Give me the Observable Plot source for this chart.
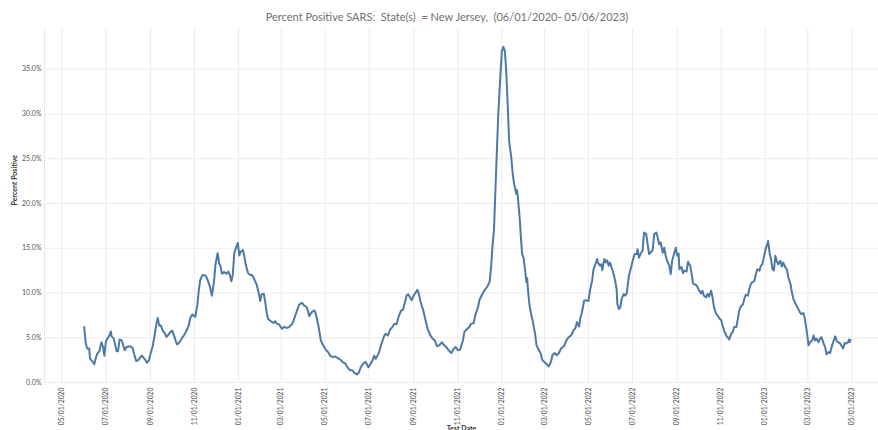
<!DOCTYPE html>
<html><head><meta charset="utf-8">
<script src="https://cdn.jsdelivr.net/npm/d3@7"></script>
<script src="https://cdn.jsdelivr.net/npm/@observablehq/plot@0.6"></script>
<style>
html,body{margin:0;padding:0;background:#fff;}
#wrap{position:relative;width:878px;height:430px;overflow:hidden;}
#title{position:absolute;top:10px;left:0;width:894px;text-align:center;font-family:Lato,sans-serif;font-size:11px;color:#707070;white-space:pre;}
#chart{position:absolute;top:0;left:0;}
</style></head><body>
<div id="wrap"><div id="chart"></div><div id="title"></div></div>
<script>
const titleText = "Percent Positive SARS:  State(s)  = New Jersey,  (06/01/2020- 05/06/2023)";
const yLabel = "Percent Positive";
const xLabel = "Test Date";
const yTicks = [0, 5, 10, 15, 20, 25, 30, 35];
const xTicks = ["2020-05-01","2020-07-01","2020-09-01","2020-11-01","2021-01-01","2021-03-01","2021-05-01","2021-07-01","2021-09-01","2021-11-01","2022-01-01","2022-03-01","2022-05-01","2022-07-01","2022-09-01","2022-11-01","2023-01-01","2023-03-01","2023-05-01"];

const nj2020 = [
["2020-06-01",6.2],["2020-06-03",4.5],["2020-06-05",3.8],["2020-06-08",3.8],["2020-06-09",2.7],["2020-06-12",2.4],["2020-06-15",2.05],["2020-06-17",2.7],["2020-06-19",3.2],["2020-06-22",3.5],["2020-06-24",4.2],["2020-06-25",4.5],["2020-06-27",4.0],["2020-06-29",3.0],
["2020-07-01",4.5],["2020-07-03",4.9],["2020-07-05",5.1],["2020-07-08",5.7],["2020-07-09",5.15],["2020-07-12",4.9],["2020-07-14",4.2],["2020-07-16",3.5],["2020-07-18",3.5],["2020-07-20",4.8],["2020-07-23",4.7],["2020-07-25",4.2],["2020-07-27",3.6],["2020-07-30",4.0],
["2020-08-01",4.0],["2020-08-04",4.05],["2020-08-07",3.9],["2020-08-09",3.25],["2020-08-12",2.4],["2020-08-15",2.5],["2020-08-18",2.85],["2020-08-20",3.0],["2020-08-23",2.7],["2020-08-25",2.5],["2020-08-27",2.2],["2020-08-30",2.5],
["2020-09-01",3.25],["2020-09-04",4.05],["2020-09-07",5.45],["2020-09-09",6.5],["2020-09-11",7.2],["2020-09-13",6.35],["2020-09-15",6.4],["2020-09-18",5.8],["2020-09-21",5.45],["2020-09-23",5.1],["2020-09-25",5.25],["2020-09-28",5.6],
["2020-10-01",5.8],["2020-10-04",5.15],["2020-10-06",4.6],["2020-10-08",4.25],["2020-10-11",4.5],["2020-10-15",5.0],["2020-10-19",5.5],["2020-10-22",6.0],["2020-10-24",6.4],["2020-10-26",7.2],["2020-10-29",7.6],["2020-10-31",7.45],
["2020-11-02",7.35],["2020-11-05",8.75],["2020-11-07",10.4],["2020-11-09",11.5],["2020-11-12",12.0],["2020-11-16",11.95],["2020-11-19",11.5],["2020-11-22",10.8],["2020-11-25",9.7],["2020-11-28",11.3],["2020-11-30",13.2],
["2020-12-03",14.45],["2020-12-05",13.35],["2020-12-07",13.0],["2020-12-09",12.15],["2020-12-12",12.35],["2020-12-15",12.15],["2020-12-18",12.4],["2020-12-20",12.0],["2020-12-22",11.3],["2020-12-24",12.05],["2020-12-26",14.45],["2020-12-29",15.2],["2020-12-31",15.6]
];
const nj2021 = [
["2021-01-02",14.2],["2021-01-04",14.6],["2021-01-07",14.8],["2021-01-09",14.1],["2021-01-11",13.15],["2021-01-14",12.25],["2021-01-17",12.0],["2021-01-19",12.05],["2021-01-22",11.7],["2021-01-24",11.3],["2021-01-26",10.95],["2021-01-29",10.0],["2021-01-31",9.1],
["2021-02-02",9.85],["2021-02-05",9.9],["2021-02-07",8.95],["2021-02-09",7.8],["2021-02-11",7.1],["2021-02-14",6.9],["2021-02-18",6.65],["2021-02-21",6.85],["2021-02-23",6.55],["2021-02-26",6.5],
["2021-03-02",6.0],["2021-03-05",6.2],["2021-03-09",6.1],["2021-03-12",6.2],["2021-03-16",6.5],["2021-03-19",7.1],["2021-03-23",8.05],["2021-03-26",8.7],["2021-03-30",8.9],
["2021-04-02",8.6],["2021-04-05",8.45],["2021-04-07",8.05],["2021-04-09",7.4],["2021-04-11",7.7],["2021-04-13",7.9],["2021-04-16",8.05],["2021-04-18",7.7],["2021-04-22",6.2],["2021-04-25",4.7],["2021-04-29",4.05],
["2021-05-02",3.65],["2021-05-05",3.4],["2021-05-08",3.0],["2021-05-11",2.85],["2021-05-15",2.9],["2021-05-18",2.75],["2021-05-22",2.55],["2021-05-25",2.3],["2021-05-29",2.1],
["2021-06-01",1.7],["2021-06-04",1.4],["2021-06-08",1.35],["2021-06-11",1.05],["2021-06-14",0.9],["2021-06-17",1.15],["2021-06-19",1.65],["2021-06-23",2.15],["2021-06-26",2.3],["2021-06-30",1.7],
["2021-07-03",2.1],["2021-07-06",2.55],["2021-07-08",3.0],["2021-07-10",2.65],["2021-07-14",3.2],["2021-07-16",3.75],["2021-07-18",4.3],["2021-07-22",5.25],["2021-07-24",5.45],["2021-07-27",5.25],["2021-07-30",5.9],
["2021-08-02",6.2],["2021-08-05",6.55],["2021-08-08",6.5],["2021-08-11",7.4],["2021-08-14",8.0],["2021-08-17",8.15],["2021-08-19",8.8],["2021-08-22",9.75],["2021-08-24",9.85],["2021-08-26",9.6],["2021-08-29",9.2],["2021-08-31",9.6],
["2021-09-03",10.0],["2021-09-06",10.35],["2021-09-08",9.85],["2021-09-10",9.1],["2021-09-14",8.05],["2021-09-17",7.0],["2021-09-20",6.0],["2021-09-24",5.25],["2021-09-27",4.9],["2021-09-30",4.7],
["2021-10-03",4.05],["2021-10-06",4.15],["2021-10-10",4.5],["2021-10-12",4.25],["2021-10-16",3.95],["2021-10-19",3.6],["2021-10-23",3.3],["2021-10-26",3.75],["2021-10-29",3.95],
["2021-11-01",3.6],["2021-11-04",3.65],["2021-11-08",4.7],["2021-11-10",5.65],["2021-11-14",6.0],["2021-11-17",6.2],["2021-11-19",6.55],["2021-11-23",6.65],["2021-11-25",7.5],["2021-11-29",8.45],
["2021-12-01",9.25],["2021-12-04",9.75],["2021-12-08",10.3],["2021-12-12",10.75],["2021-12-15",11.25],["2021-12-17",12.9],["2021-12-19",15.3],["2021-12-21",17.0],["2021-12-24",23.65],["2021-12-27",30.0],["2021-12-30",34.45]
];
const nj2022 = [
["2022-01-01",37.05],["2022-01-03",37.5],["2022-01-05",37.05],["2022-01-07",34.8],["2022-01-09",31.1],["2022-01-11",27.0],["2022-01-14",25.15],["2022-01-16",23.3],["2022-01-18",22.15],["2022-01-21",21.05],["2022-01-22",21.5],["2022-01-23",20.85],["2022-01-26",18.0],["2022-01-27",16.6],["2022-01-29",14.35],["2022-01-31",13.95],
["2022-02-02",12.65],["2022-02-04",11.2],["2022-02-05",11.65],["2022-02-06",10.45],["2022-02-08",8.8],["2022-02-10",7.85],["2022-02-13",6.75],["2022-02-16",5.45],["2022-02-18",4.15],["2022-02-21",3.65],["2022-02-24",3.2],["2022-02-26",2.5],
["2022-03-02",2.2],["2022-03-04",2.05],["2022-03-07",1.8],["2022-03-10",2.3],["2022-03-12",3.05],["2022-03-15",3.3],["2022-03-18",3.05],["2022-03-21",3.3],["2022-03-24",3.8],["2022-03-28",4.05],
["2022-04-01",4.8],["2022-04-04",5.1],["2022-04-07",5.25],["2022-04-10",5.8],["2022-04-13",6.1],["2022-04-15",6.75],["2022-04-18",6.25],["2022-04-20",7.3],["2022-04-22",7.85],["2022-04-25",9.15],["2022-04-27",9.2],
["2022-05-01",9.1],["2022-05-03",10.25],["2022-05-06",11.35],["2022-05-08",12.65],["2022-05-10",13.05],["2022-05-13",13.8],["2022-05-14",13.4],["2022-05-17",13.05],["2022-05-19",13.2],["2022-05-20",12.55],["2022-05-23",13.8],["2022-05-25",13.4],["2022-05-27",13.65],["2022-05-29",13.05],["2022-05-31",13.4],
["2022-06-02",12.85],["2022-06-05",12.1],["2022-06-07",11.35],["2022-06-09",10.45],["2022-06-10",8.8],["2022-06-12",8.2],["2022-06-14",8.35],["2022-06-16",9.35],["2022-06-19",9.9],["2022-06-21",9.7],["2022-06-23",9.95],["2022-06-26",11.9],["2022-06-29",12.85],
["2022-07-02",13.8],["2022-07-04",14.35],["2022-07-07",14.35],["2022-07-08",14.9],["2022-07-10",13.95],["2022-07-13",14.5],["2022-07-15",14.7],["2022-07-17",16.75],["2022-07-20",16.6],["2022-07-22",15.45],["2022-07-24",14.35],["2022-07-26",14.5],["2022-07-29",14.8],["2022-07-31",16.55],
["2022-08-03",16.75],["2022-08-05",16.2],["2022-08-07",15.45],["2022-08-09",15.65],["2022-08-12",14.5],["2022-08-14",15.05],["2022-08-16",14.15],["2022-08-18",13.6],["2022-08-21",13.05],["2022-08-23",12.1],["2022-08-25",13.6],["2022-08-28",14.5],["2022-08-30",15.05],
["2022-09-01",14.15],["2022-09-03",14.4],["2022-09-04",12.65],["2022-09-07",12.9],["2022-09-09",12.2],["2022-09-11",12.5],["2022-09-14",12.4],["2022-09-16",13.5],["2022-09-19",13.05],["2022-09-21",12.1],["2022-09-23",11.05],["2022-09-27",10.9],["2022-09-29",10.7],
["2022-10-01",10.35],["2022-10-04",9.95],["2022-10-06",10.25],["2022-10-08",9.7],["2022-10-11",9.5],["2022-10-13",9.9],["2022-10-15",9.6],["2022-10-18",10.25],["2022-10-20",9.5],["2022-10-22",8.4],["2022-10-25",7.65],["2022-10-27",7.5],["2022-10-29",7.2],
["2022-11-01",6.95],["2022-11-03",6.35],["2022-11-05",5.8],["2022-11-08",5.25],["2022-11-10",5.05],["2022-11-12",4.8],["2022-11-15",5.45],["2022-11-17",5.65],["2022-11-19",6.2],["2022-11-22",6.2],["2022-11-24",7.1],["2022-11-26",8.05],["2022-11-29",8.6],
["2022-12-01",8.7],["2022-12-03",9.35],["2022-12-05",9.8],["2022-12-08",9.7],["2022-12-10",10.45],["2022-12-12",11.0],["2022-12-14",11.2],["2022-12-17",11.35],["2022-12-19",12.1],["2022-12-21",12.65],["2022-12-24",12.5],["2022-12-26",13.05],["2022-12-28",13.2],["2022-12-31",14.35]
];
const nj2023 = [
["2023-01-02",15.05],["2023-01-04",15.5],["2023-01-05",15.8],["2023-01-07",14.5],["2023-01-09",13.8],["2023-01-11",12.65],["2023-01-13",12.5],["2023-01-15",14.15],["2023-01-17",13.6],["2023-01-19",13.2],["2023-01-22",13.6],["2023-01-24",12.95],["2023-01-26",13.4],["2023-01-29",12.85],["2023-01-31",12.65],
["2023-02-02",11.75],["2023-02-05",11.0],["2023-02-07",10.05],["2023-02-09",9.35],["2023-02-12",8.8],["2023-02-14",8.5],["2023-02-16",8.2],["2023-02-18",7.85],["2023-02-20",7.65],["2023-02-23",7.75],["2023-02-25",7.1],["2023-02-28",5.45],
["2023-03-02",4.15],["2023-03-04",4.5],["2023-03-07",4.7],["2023-03-09",5.25],["2023-03-11",4.7],["2023-03-13",4.9],["2023-03-16",4.5],["2023-03-18",4.9],["2023-03-20",5.05],["2023-03-23",4.35],["2023-03-25",3.95],["2023-03-27",3.15],["2023-03-30",3.4],
["2023-04-01",3.3],["2023-04-03",3.95],["2023-04-06",4.7],["2023-04-08",5.15],["2023-04-10",4.65],["2023-04-12",4.5],["2023-04-15",4.35],["2023-04-17",4.05],["2023-04-19",3.8],["2023-04-21",4.4],["2023-04-23",4.35],["2023-04-26",4.5],["2023-04-27",4.8],["2023-04-28",4.5],["2023-04-29",4.75]
];

const data = [...nj2020, ...nj2021, ...nj2022, ...nj2023].map(([d, v]) => ({date: new Date(d + "T00:00:00Z"), value: v}));
const tickDates = xTicks.map(d => new Date(d + "T00:00:00Z"));
const fmt = d3.utcFormat("%m/%d/%Y");

document.getElementById("title").textContent = titleText;

const chart = Plot.plot({
  width: 878,
  height: 430,
  marginTop: 28,
  marginBottom: 48,
  marginLeft: 44,
  marginRight: 0,
  style: {fontFamily: "Lato, sans-serif", background: "#fff", overflow: "visible"},
  x: {type: "utc", domain: [new Date("2020-04-07T00:00:00Z"), new Date("2023-06-07T00:00:00Z")]},
  y: {domain: [0, 39.55]},
  marks: [
    Plot.ruleX(tickDates, {stroke: "#ececec", strokeWidth: 1}),
    Plot.ruleY(yTicks, {stroke: "#ececec", strokeWidth: 1}),
    Plot.frame({anchor: "left", stroke: "#e6e6e6"}),
    Plot.axisY({ticks: yTicks, tickFormat: d => d.toFixed(1) + "%", tickSize: 0, tickPadding: 3, fontSize: 7, fill: "#555", label: null}),
    Plot.axisX({ticks: tickDates, tickFormat: fmt, tickRotate: -90, tickSize: 0, tickPadding: 5, fontSize: 6.8, fill: "#4a4a4a", label: null}),
    Plot.text([yLabel], {frameAnchor: "left", dx: -30, rotate: -90, fontSize: 7, fontWeight: "bold", fill: "#333", text: d => d}),
    Plot.text([xLabel], {frameAnchor: "bottom", dy: 48, lineAnchor: "bottom", fontSize: 7, fontWeight: "bold", fill: "#333", text: d => d}),
    Plot.line(data, {x: "date", y: "value", stroke: "#4e79a7", strokeWidth: 2})
  ]
});
document.getElementById("chart").appendChild(chart);
</script>
</body></html>
